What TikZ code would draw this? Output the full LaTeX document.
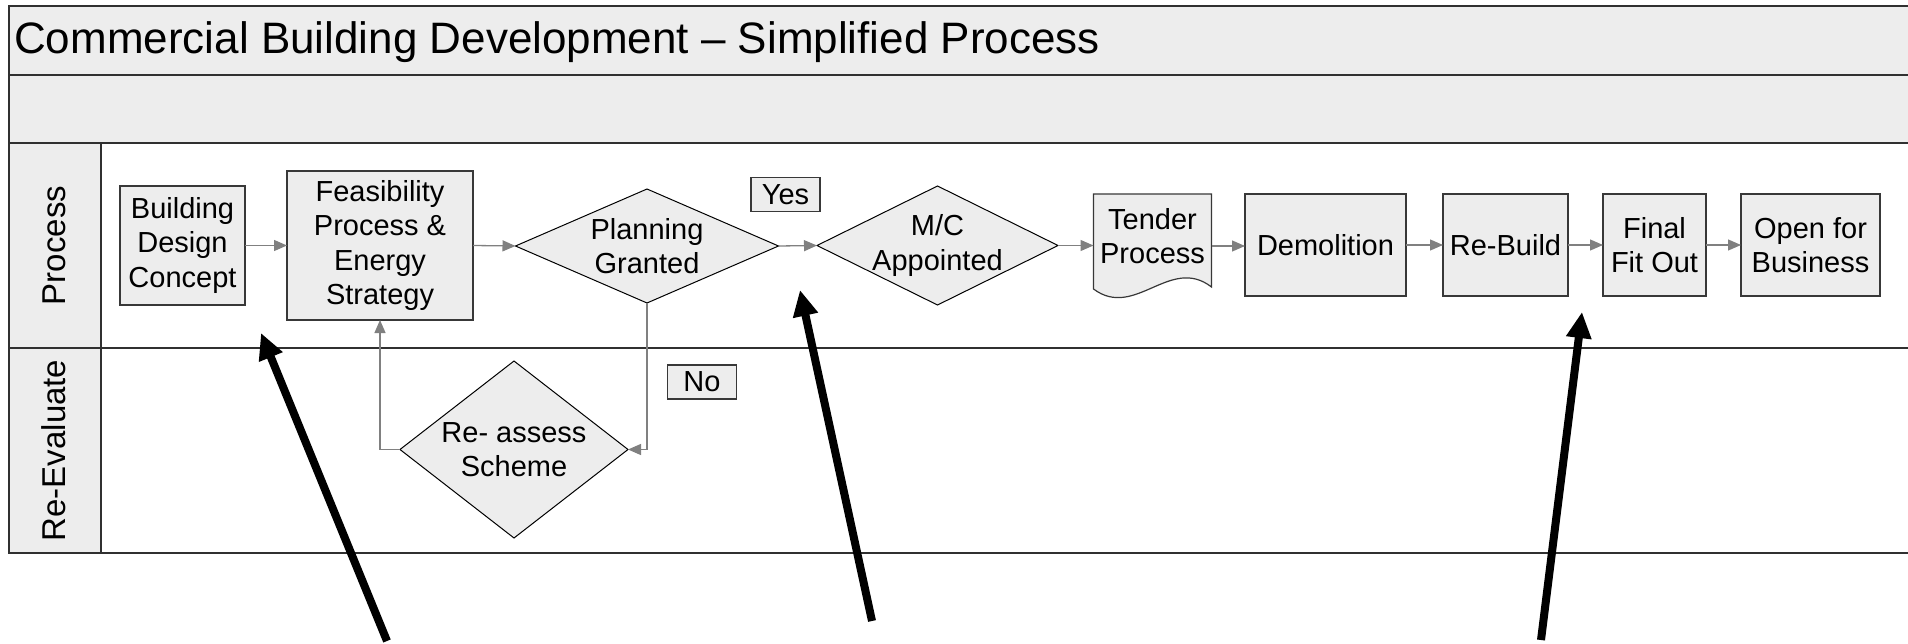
\documentclass[tikz,border=0pt]{standalone}
\usepackage{fontspec}
\setmainfont{Liberation Sans}
\usetikzlibrary{arrows.meta,shapes.geometric,calc}
\definecolor{panel}{HTML}{EDEDED}
\definecolor{frameline}{HTML}{303030}
\definecolor{boxline}{HTML}{383838}
\definecolor{linkgray}{HTML}{808080}
\begin{document}
\begin{tikzpicture}[x=1pt,y=-1pt,
  nodefont/.style={font=\fontsize{29}{34.5}\selectfont},
  stepbox/.style={draw=boxline, fill=panel, line width=1.2pt, inner sep=0pt,
    outer sep=0pt, align=center, nodefont},
  decision/.style={diamond, draw=black, fill=panel, line width=1pt,
    inner sep=0pt, outer sep=0pt},
  dectext/.style={align=center, nodefont, inner sep=0pt},
  link/.style={draw=linkgray, line width=1.3pt, -{Triangle[length=13pt,width=11pt]}},
  pointer/.style={draw=black, line width=8pt, -{Triangle[length=26pt,width=24pt]}},
  lanelabel/.style={rotate=90, font=\fontsize{33}{40}\selectfont, inner sep=0pt},
  rule/.style={draw=frameline, line width=2pt},
]
\useasboundingbox (0,0) rectangle (1908,644);

% swimlane frame
\fill[panel] (9,6) rectangle (1908,143);
\fill[panel] (9,143) rectangle (101,553);
\draw[rule] (1908,6) -- (9,6) -- (9,553) -- (1908,553);
\draw[rule] (9,75) -- (1908,75);
\draw[rule] (9,143) -- (1908,143);
\draw[rule] (9,348) -- (1908,348);
\draw[rule] (101,143) -- (101,553);

\node[anchor=base west, inner sep=0pt, font=\fontsize{44}{50}\selectfont] (title) at (14,54)
  {Commercial Building Development – Simplified Process};

\node[lanelabel] (laneproc) at (54,245.5) {Process};
\node[lanelabel] (lanereeval) at (54,450.5) {Re-Evaluate};

% process lane
\node[stepbox, minimum width=125pt, minimum height=119pt] (concept) at (182.5,245.5)
  {Building\\Design\\Concept};
\node[stepbox, minimum width=186pt, minimum height=149pt] (feas) at (380,245.5)
  {Feasibility\\Process \&\\Energy\\Strategy};
\node[decision, minimum width=263pt, minimum height=114pt] (plan) at (647,246) {};
\node[dectext] (plantext) at (plan) {Planning\\Granted};
\node[decision, minimum width=241pt, minimum height=119pt] (mc) at (937.5,245.5) {};
\node[dectext] (mctext) at (mc) {M/C\\Appointed};

\node[inner sep=0pt, outer sep=0pt, minimum width=118pt, minimum height=104pt] (tender) at (1152.5,246) {};
\draw[draw=boxline, fill=panel, line width=1.2pt]
  (tender.north west) -- (tender.north east) -- ($(tender.south east)+(0,-11)$)
  .. controls ($(tender.south east)+(-41.5,-43)$) and ($(tender.south west)+(41.5,22)$)
  .. ($(tender.south west)+(0,-9)$) -- cycle;
\node[dectext] (tendertext) at (1152.5,236) {Tender\\Process};

\node[stepbox, minimum width=161pt, minimum height=102pt] (demo) at (1325.5,245) {Demolition};
\node[stepbox, minimum width=125pt, minimum height=102pt] (rebuild) at (1505.5,245) {Re-Build};
\node[stepbox, minimum width=103pt, minimum height=102pt] (fitout) at (1654.5,245) {Final\\Fit Out};
\node[stepbox, minimum width=139pt, minimum height=102pt] (open) at (1810.5,245) {Open for\\Business};

% re-evaluate lane
\node[decision, minimum width=228pt, minimum height=177pt] (reassess) at (514,449.5) {};
\node[dectext] (reassesstext) at (reassess) {Re- assess\\Scheme};

\node[stepbox, minimum width=69pt, minimum height=34pt] (yes) at (785.5,194.5) {Yes};
\node[stepbox, minimum width=69pt, minimum height=34pt] (no) at (702,382) {No};

% flow
\draw[link] (concept.east) -- (feas.west);
\draw[link] (feas.east) -- (plan.west);
\draw[link] (plan.east) -- (mc.west);
\draw[link] (mc.east) -- (mc.east -| tender.west);
\draw[link] (tender.east) -- (tender.east -| demo.west);
\draw[link] (demo.east) -- (rebuild.west);
\draw[link] (rebuild.east) -- (fitout.west);
\draw[link] (fitout.east) -- (open.west);
\draw[link] (plan.south) |- (reassess.east);
\draw[link] (reassess.west) -| (feas.south);

% callout pointers
\coordinate (p1tail) at (387,641);
\coordinate (p1tip) at (261,333);
\coordinate (p2tail) at (872,621);
\coordinate (p2tip) at (800,290);
\coordinate (p3tail) at (1541,640);
\coordinate (p3tip) at (1582,312);
\draw[pointer] (p1tail) -- (p1tip);
\draw[pointer] (p2tail) -- (p2tip);
\draw[pointer] (p3tail) -- (p3tip);
\end{tikzpicture}
\end{document}
